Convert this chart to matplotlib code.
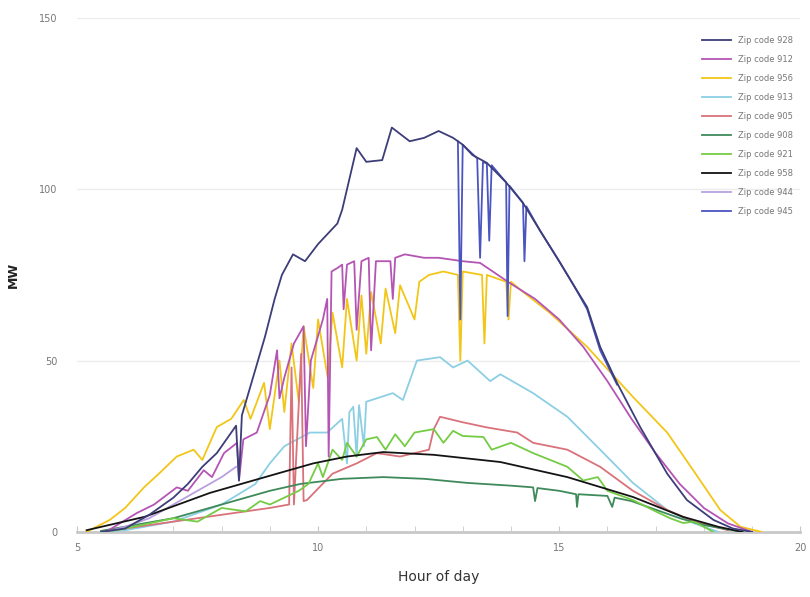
import numpy as np
from matplotlib import pyplot as plt

# ---- data (hour of day, MW) ----
labels = ["Zip code 928", "Zip code 912", "Zip code 956", "Zip code 913", "Zip code 905",
          "Zip code 908", "Zip code 921", "Zip code 958", "Zip code 944", "Zip code 945"]

h_928 = [5.5, 6.0, 6.5, 7.0, 7.3, 7.6, 7.9, 8.1, 8.3, 8.36, 8.42, 8.65, 8.9, 9.1, 9.25, 9.48, 9.73,
         10.0, 10.4, 10.5, 10.8, 11.0, 11.33, 11.53, 11.9, 12.2, 12.5, 12.8, 13.0, 13.2, 13.5, 13.9,
         14.25, 14.6, 15.0, 15.3, 15.58, 15.85, 16.2, 16.68, 17.24, 17.65, 18.2, 18.6, 19.0]
v_928 = [0, 1, 5, 10, 14, 19, 23, 27, 31, 15, 34, 45, 57, 68, 75, 81, 79,
         84, 90, 94, 112, 108, 108.5, 118, 114, 115, 117, 115, 113, 110, 107.7, 102,
         96, 88, 79, 72, 65.6, 54, 43.5, 30.6, 17, 9.3, 3.5, 1, 0]

h_912 = [5.6, 6.24, 6.6, 7.07, 7.3, 7.63, 7.8, 8.05, 8.32, 8.36, 8.45, 8.73, 9.0, 9.15, 9.2, 9.3,
         9.5, 9.7, 9.75, 9.85, 10.1, 10.19, 10.22, 10.28, 10.4, 10.5, 10.53, 10.6, 10.75, 10.8, 10.9,
         11.05, 11.1, 11.2, 11.5, 11.55, 11.6, 11.8, 12.2, 12.5, 13.0, 13.36, 13.98, 14.5, 15.0,
         15.5, 16.0, 16.5, 17.0, 17.5, 18.0, 18.5, 19.0]
v_912 = [0, 5.5, 8, 13, 12, 18, 16, 23, 26, 15, 27, 29, 40, 53, 39, 45,
         55, 60, 25, 50, 62, 68, 22, 76, 77, 78, 65, 78, 79, 59, 79,
         80, 53, 79, 79, 68, 80, 81, 80, 80, 79, 78.5, 72.6, 68, 62,
         54, 44, 33, 23, 14, 7, 2.5, 0]

h_956 = [5.2, 5.68, 6.0, 6.39, 6.7, 7.07, 7.42, 7.6, 7.9, 8.2, 8.46, 8.6, 8.88, 9.0, 9.2, 9.3,
         9.45, 9.6, 9.7, 9.9, 10.0, 10.2, 10.3, 10.5, 10.6, 10.8, 10.9, 11.0, 11.1, 11.3, 11.4,
         11.6, 11.7, 12.0, 12.1, 12.3, 12.6, 12.9, 12.95, 13.0, 13.4, 13.45, 13.5, 13.9, 13.95,
         14.0, 14.2, 14.8, 15.58, 16.53, 17.24, 17.78, 18.34, 18.76, 19.2]
v_956 = [0, 3.5, 7, 13, 17, 22, 24, 21, 30.6, 33, 38.5, 33, 43.5, 30, 50, 35,
         55, 38, 60, 42, 62, 45, 64, 48, 68, 50, 69, 52, 70, 55, 71,
         58, 72, 62, 73, 75, 76, 75, 50, 76, 75, 55, 75, 73, 62,
         73, 70.6, 64, 54, 39.4, 29, 18, 6.4, 1.5, 0]

h_913 = [5.5, 6.0, 7.0, 8.0, 8.7, 9.0, 9.3, 9.83, 10.19, 10.5, 10.6, 10.65, 10.73, 10.8, 10.85,
         10.95, 11.0, 11.55, 11.76, 12.05, 12.53, 12.8, 13.1, 13.57, 13.78, 14.46, 15.17, 15.85,
         16.53, 17.24, 17.78, 18.3]
v_913 = [0, 0.5, 3, 8, 14, 20, 25, 29, 29, 33, 20, 35, 36.5, 22, 37,
         25, 38, 40.5, 38.5, 50, 51, 48, 50, 44, 46, 40.5, 33.6, 24,
         14.3, 6.4, 2.6, 0]

h_905 = [5.5, 6.5, 7.5, 8.5, 9.0, 9.4, 9.45, 9.5, 9.65, 9.7, 9.77, 10.3, 10.8, 11.22, 11.7, 12.0,
         12.3, 12.4, 12.53, 13.0, 13.5, 14.13, 14.46, 15.17, 15.85, 16.53, 17.24, 17.8, 18.5]
v_905 = [0, 2, 4, 6, 7, 8, 48, 8, 52, 9, 9.3, 17, 20, 23, 22, 23,
         24, 30, 33.6, 32, 30.5, 29, 26, 24, 19, 12, 6.4, 3, 0.5]

h_908 = [5.5, 7.0, 8.0, 9.0, 9.63, 10.5, 11.35, 12.2, 13.1, 14.0, 14.46, 14.5, 14.55, 15.0,
         15.35, 15.37, 15.4, 16.0, 16.1, 16.15, 16.5, 17.0, 17.5, 18.0, 18.8]
v_908 = [0.3, 4, 8, 12, 14, 15.5, 16, 15.5, 14.3, 13.5, 13, 9, 12.8, 12,
         11, 7.3, 11, 10.5, 7.3, 10, 9, 6.5, 4, 2, 0]

h_921 = [5.6, 6.0, 6.5, 7.0, 7.5, 8.0, 8.5, 8.8, 9.0, 9.3, 9.6, 9.8, 10.0, 10.1, 10.3, 10.5,
         10.6, 10.8, 11.0, 11.22, 11.4, 11.6, 11.8, 12.0, 12.4, 12.6, 12.8, 13.0, 13.43, 13.6,
         14.0, 14.46, 15.17, 15.5, 15.8, 16.0, 16.53, 17.0, 17.3, 17.57, 17.8, 18.2]
v_921 = [0, 1, 2.5, 4, 3, 7, 6, 9, 8, 10, 12, 14, 20, 16, 24, 21,
         26, 22, 27, 27.7, 24, 28.5, 25, 29, 30, 26, 29.5, 28, 27.7, 24,
         26, 23, 19, 15, 16, 12, 9.3, 6, 4, 2.6, 3, 0]

h_958 = [5.2, 6.4, 7.76, 9.15, 9.9, 10.6, 11.35, 12.4, 13.78, 15.17, 16.53, 17.57, 18.3, 18.8]
v_958 = [0.5, 4.4, 11.4, 17, 20, 22, 23.3, 22.5, 20.4, 16, 10.2, 4.4, 1.5, 0]

h_944 = [5.6, 6.0, 6.5, 7.0, 7.5, 8.0, 8.3]
v_944 = [0, 1.5, 4, 8, 12, 16, 19]

h_945 = [12.9, 12.95, 13.0, 13.3, 13.36, 13.42, 13.5, 13.55, 13.6, 13.9, 13.93, 13.97,
         14.25, 14.28, 14.32, 14.6, 15.0, 15.3, 15.58, 15.85, 16.2]
v_945 = [114, 62, 113, 109, 80, 108, 107.5, 85, 107, 102, 63, 101,
         96, 79, 95, 88, 79, 72, 65, 53, 43]

series = [
    (h_928, v_928, '#3d3d78', 6),
    (h_912, v_912, '#b455b4', 4),
    (h_956, v_956, '#f2c618', 3),
    (h_913, v_913, '#8ccfe4', 3),
    (h_905, v_905, '#d9727a', 3),
    (h_908, v_908, '#3f8a5a', 3),
    (h_921, v_921, '#74cc45', 3),
    (h_958, v_958, '#141414', 4),
    (h_944, v_944, '#b9a0e0', 3),
    (h_945, v_945, '#4b55c0', 5),
]

fig, ax = plt.subplots(figsize=(8.1, 5.97), dpi=100)
fig.subplots_adjust(left=0.095, right=0.988, bottom=0.109, top=0.970)

for (h, v, c, z), lab in zip(series, labels):
    ax.plot(h, v, color=c, lw=1.3, label=lab, zorder=z)

ax.set_xlim(5, 20)
ax.set_ylim(0, 150)
ax.set_xticks([5, 10, 15, 20])
ax.set_xticks(np.arange(5, 21, 1), minor=True)
ax.set_yticks([0, 50, 100, 150])
ax.tick_params(axis='x', which='both', direction='in', length=4, color='#c8c8c8',
               labelsize=7, labelcolor='#777777', pad=8)
ax.tick_params(axis='y', length=0, labelsize=7, labelcolor='#777777', pad=14)
ax.grid(axis='y', color='#ececec', lw=1)
ax.set_axisbelow(True)
for s in ['top', 'right', 'left']:
    ax.spines[s].set_visible(False)
ax.spines['bottom'].set_color('#c8c8c8')
ax.spines['bottom'].set_linewidth(2)

ax.set_xlabel("Hour of day", fontsize=10, color='#333333', labelpad=12)
ax.set_ylabel("MW", fontsize=9, color='#222222', fontweight='bold', labelpad=14)

ax.legend(loc='upper right', bbox_to_anchor=(1.0, 0.98), frameon=False, fontsize=6,
          labelcolor='#777777', handlelength=3.5, labelspacing=1.2)

plt.savefig("out.png", dpi=100)
plt.close(fig)
